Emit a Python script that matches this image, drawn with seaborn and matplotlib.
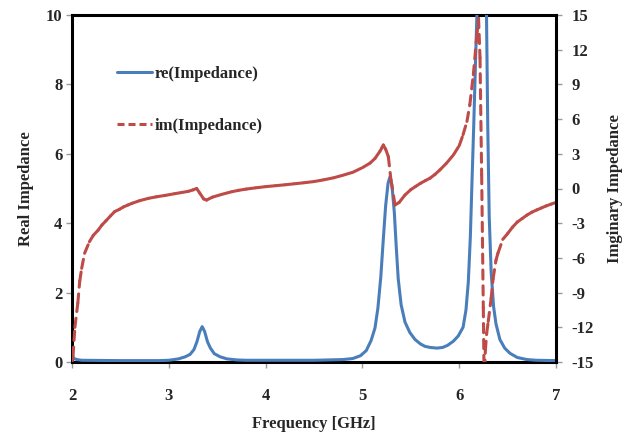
import matplotlib
matplotlib.use("Agg")
import matplotlib.pyplot as plt
from matplotlib.lines import Line2D
import seaborn as sns
import pandas as pd

# ---------------- data ----------------
re_freq = [2.00, 2.02, 2.05, 2.10, 2.50, 2.90, 3.00, 3.10, 3.17, 3.22, 3.26, 3.29,
           3.32, 3.345, 3.37, 3.40, 3.43, 3.47, 3.53, 3.60, 3.70, 3.80, 4.50, 4.80,
           4.90, 4.98, 5.04, 5.09, 5.13, 5.16, 5.19, 5.215, 5.24, 5.265, 5.285, 5.305,
           5.33, 5.35, 5.37, 5.40, 5.44, 5.49, 5.543, 5.60, 5.647, 5.70, 5.77, 5.83,
           5.88, 5.94, 5.99, 6.04, 6.07, 6.094, 6.115, 6.13, 6.15, 6.17, 6.187, 6.21,
           6.235, 6.26, 6.282, 6.295, 6.31, 6.33, 6.355, 6.38, 6.42, 6.47, 6.525, 6.60,
           6.70, 6.80, 7.00]
re_vals = [0.15, 0.10, 0.07, 0.05, 0.04, 0.04, 0.05, 0.09, 0.15, 0.22, 0.36, 0.58,
           0.88, 1.02, 0.88, 0.58, 0.40, 0.24, 0.15, 0.09, 0.06, 0.05, 0.05, 0.07,
           0.10, 0.18, 0.33, 0.62, 0.98, 1.55, 2.45, 3.50, 4.50, 5.15, 5.34, 5.10,
           4.30, 3.30, 2.40, 1.65, 1.15, 0.85, 0.65, 0.52, 0.45, 0.42, 0.40, 0.42,
           0.48, 0.60, 0.75, 1.00, 1.50, 2.30, 3.60, 5.00, 6.80, 8.80, 10.4, 13.0,
           14.5, 13.0, 10.0, 6.80, 4.20, 2.60, 1.60, 1.10, 0.65, 0.40, 0.25, 0.13,
           0.07, 0.05, 0.04]

im_freq = [2.00, 2.01, 2.03, 2.06, 2.08, 2.10, 2.13, 2.18, 2.22, 2.27, 2.31, 2.35,
           2.40, 2.44, 2.49, 2.53, 2.58, 2.62, 2.70, 2.79, 2.87, 2.96, 3.06, 3.13,
           3.20, 3.25, 3.288, 3.32, 3.36, 3.39, 3.45, 3.55, 3.65, 3.72, 3.80, 3.90,
           4.00, 4.10, 4.20, 4.30, 4.40, 4.50, 4.60, 4.70, 4.80, 4.90, 5.00, 5.08,
           5.13, 5.18, 5.20, 5.216, 5.24, 5.268, 5.295, 5.337, 5.38, 5.44, 5.50, 5.55,
           5.60, 5.65, 5.70, 5.75, 5.80, 5.87, 5.94, 6.00, 6.04, 6.08, 6.11, 6.146,
           6.18, 6.20, 6.215, 6.232, 6.249, 6.258, 6.27, 6.284, 6.30, 6.33, 6.35,
           6.38, 6.40, 6.45, 6.50, 6.55, 6.60, 6.65, 6.70, 6.75, 6.80, 6.85, 6.90,
           6.95, 7.00]
im_vals = [-15.0, -14.5, -12.0, -9.9, -8.0, -6.9, -5.6, -4.6, -4.05, -3.6, -3.15, -2.8,
           -2.35, -2.0, -1.8, -1.6, -1.42, -1.28, -1.05, -0.85, -0.72, -0.6, -0.45, -0.35,
           -0.25, -0.12, 0.0, -0.4, -0.9, -1.0, -0.75, -0.5, -0.28, -0.16, -0.05, 0.06,
           0.16, 0.24, 0.32, 0.41, 0.5, 0.6, 0.75, 0.92, 1.15, 1.4, 1.8, 2.2,
           2.6, 3.2, 3.5, 3.76, 3.4, 2.75, 0.73, -1.43, -1.2, -0.56, -0.1, 0.18,
           0.45, 0.68, 0.9, 1.22, 1.6, 2.2, 2.9, 3.7, 4.65, 5.8, 7.25, 9.84,
           13.0, 14.7, 11.3, 1.2, -10.3, -17.0, -14.0, -12.5, -11.5, -9.5, -7.8,
           -6.2, -5.6, -4.4, -3.9, -3.35, -2.9, -2.6, -2.3, -2.05, -1.86, -1.68, -1.5,
           -1.35, -1.2]

x_ticks = [2, 3, 4, 5, 6, 7]
re_ticks = [0, 2, 4, 6, 8, 10]
im_ticks = [-15, -12, -9, -6, -3, 0, 3, 6, 9, 12, 15]

series_labels = ["re(Impedance)", "im(Impedance)"]
x_label = "Frequency [GHz]"
y_label_left = "Real Impedance"
y_label_right = "Imginary Impedance"

# ---------------- style ----------------
sns.set_style("white")
plt.rcParams["font.family"] = ["Liberation Serif", "DejaVu Serif"]
plt.rcParams["font.weight"] = "bold"

BLUE = "#4A7EBB"
RED = "#BE4B48"
FS = 12
LW = 2.2

fig = plt.figure(figsize=(6.32, 4.38), dpi=100)
ax = fig.add_axes([72 / 632, 76 / 438, 484 / 632, 347 / 438])
ax2 = ax.twinx()

# real part (left axis)
df_re = pd.DataFrame({"f": re_freq, "v": re_vals})
sns.lineplot(data=df_re, x="f", y="v", ax=ax, color=BLUE, lw=LW, sort=False,
             estimator=None, legend=False, zorder=3)

# imaginary part (right axis) drawn as individual segments so the dash
# pattern restarts on each one (as in the spreadsheet original)
seg_rows = []
for i in range(len(im_freq) - 1):
    seg_rows.append({"f": im_freq[i], "v": im_vals[i], "seg": i})
    seg_rows.append({"f": im_freq[i + 1], "v": im_vals[i + 1], "seg": i})
df_im = pd.DataFrame(seg_rows)
sns.lineplot(data=df_im, x="f", y="v", units="seg", estimator=None, sort=False,
             ax=ax2, color=RED, lw=LW, linestyle=(0, (3.0, 2.2)),
             dash_capstyle="round", legend=False)

# axes limits / ticks
ax.set_xlim(2, 7)
ax.set_ylim(0, 10)
ax2.set_ylim(-15, 15)
ax.set_xticks(x_ticks)
ax.set_xticklabels([str(t) for t in x_ticks])
ax.set_yticks(re_ticks)
ax.set_yticklabels([str(t) for t in re_ticks])
ax2.set_yticks(im_ticks)
ax2.set_yticklabels([str(t) for t in im_ticks])

for a in (ax, ax2):
    a.grid(False)
    for s in a.spines.values():
        s.set_linewidth(LW)
        s.set_color("black")
ax.spines["right"].set_visible(False)
for k in ("left", "bottom", "top"):
    ax2.spines[k].set_visible(False)

ax.tick_params(axis="x", direction="out", length=4, width=1, color="#999999",
               pad=15, labelsize=FS, bottom=True)
ax.tick_params(axis="y", direction="out", length=4, width=1, color="#999999",
               pad=3, labelsize=FS, left=True)
ax2.tick_params(axis="y", direction="out", length=4, width=1, color="#999999",
                pad=7, labelsize=FS, right=True)
for lab in ax.get_xticklabels() + ax.get_yticklabels() + ax2.get_yticklabels():
    lab.set_fontweight("bold")

ax.set_xlabel(x_label, fontsize=FS, fontweight="bold")
ax.set_ylabel(y_label_left, fontsize=FS, fontweight="bold")
ax2.set_ylabel(y_label_right, fontsize=FS, fontweight="bold")
ax.xaxis.set_label_coords(0.5, -0.155)
ax.yaxis.set_label_coords(-0.078, 0.5)
ax2.yaxis.set_label_coords(1.105, 0.5)

handles = [Line2D([], [], color=BLUE, lw=LW),
           Line2D([], [], color=RED, lw=LW, linestyle=(0, (2.3, 1.3)))]
leg = fig.legend(handles, series_labels, loc="upper left",
                 bbox_to_anchor=(117 / 632, 1 - 66 / 438),
                 frameon=False, fontsize=FS, handlelength=2.1,
                 handletextpad=0.15, labelspacing=2.15, borderpad=0,
                 borderaxespad=0, prop={"weight": "bold", "size": FS})

fig.savefig("out.png", dpi=100)
